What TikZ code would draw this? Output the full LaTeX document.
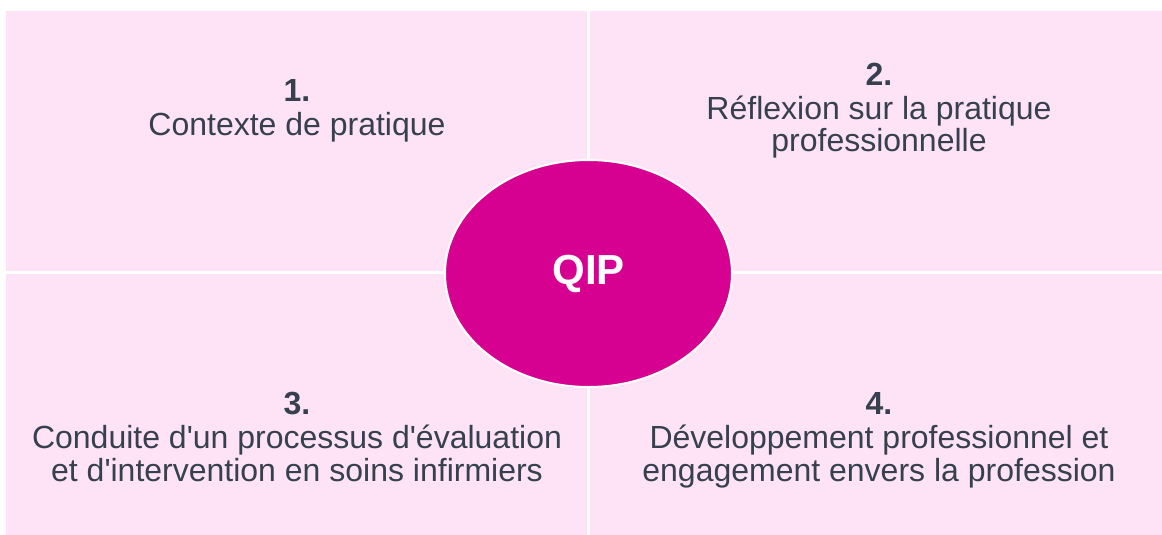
\documentclass[tikz,border=0pt]{standalone}
\usepackage{fontspec}
\setmainfont{Liberation Sans}
\usetikzlibrary{shapes.geometric}
\definecolor{quadpink}{RGB}{254,227,246}
\definecolor{qipmag}{RGB}{214,0,145}
\definecolor{txtgray}{RGB}{54,64,79}
\newcommand{\apos}{\textquotesingle}
\tikzset{
  quad/.style={fill=quadpink, draw=none},
  quadtext/.style={align=center, text=txtgray, inner sep=0pt, font=\fontsize{32}{32.4}\selectfont},
  hub/.style={ellipse, fill=qipmag, draw=white, line width=2pt, minimum width=287pt, minimum height=227pt, inner sep=0pt, text=white, font=\fontsize{42}{44}\selectfont\bfseries}
}
\begin{document}
\begin{tikzpicture}[x=1pt,y=-1pt]
\useasboundingbox[fill=white] (0,0) rectangle (1162,535);
\fill[quad] (6,11) rectangle (587,271);
\fill[quad] (590,11) rectangle (1162,271);
\fill[quad] (6,274) rectangle (587,535);
\fill[quad] (590,274) rectangle (1162,535);
\node[quadtext] (t1) at (297,112) {\strut\textbf{1.}\\Contexte de pratique\strut};
\node[quadtext] (t2) at (879,112) {\strut\textbf{2.}\\Réflexion sur la pratique\\professionnelle\strut};
\node[quadtext] (t3) at (297,441.5) {\strut\textbf{3.}\\Conduite d\apos un processus d\apos évaluation\\et d\apos intervention en soins infirmiers\strut};
\node[quadtext] (t4) at (879,441.5) {\strut\textbf{4.}\\Développement professionnel et\\engagement envers la profession\strut};
\node[hub] (qip) at (588.5,273.5) {QIP};
\end{tikzpicture}
\end{document}
